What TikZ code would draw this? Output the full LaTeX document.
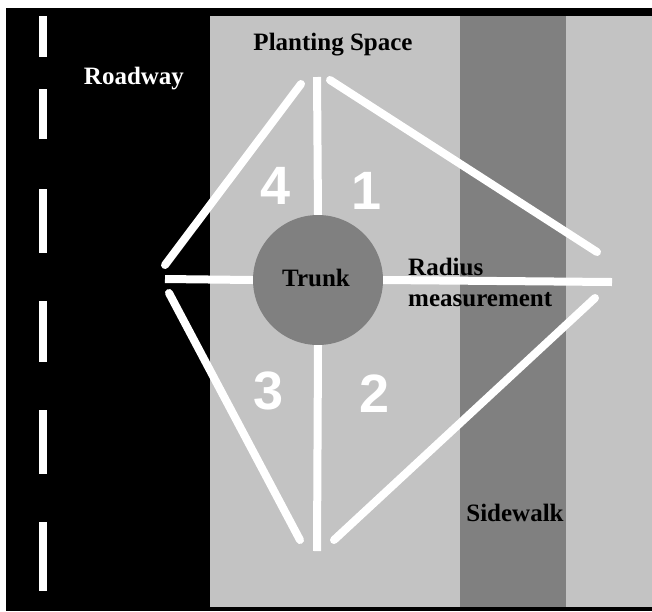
\documentclass[tikz,border=0pt]{standalone}
\usepackage{fontspec}
\setmainfont{Liberation Serif}
\newfontfamily\digitfont{Liberation Sans}
\definecolor{planting}{HTML}{C3C3C3}
\definecolor{walkgray}{HTML}{808080}
\begin{document}
\begin{tikzpicture}[x=1pt,y=-1pt,
  lbl/.style={inner sep=0pt,font=\fontsize{25}{31}\selectfont\bfseries},
  digit/.style={inner sep=0pt,text=white,font=\digitfont\fontsize{54}{60}\selectfont\bfseries},
  wline/.style={draw=white,line width=8pt},
  wdiag/.style={draw=white,line width=8pt,line cap=round},
  dash/.style={fill=white}]
\useasboundingbox (0,0) rectangle (652,611);
\fill[white] (0,0) rectangle (652,611);
% background bands
\fill[black] (6,8) rectangle (652,611);
\fill[planting] (210,16) rectangle (652,607);
\fill[walkgray] (460,16) rectangle (566,607);
% road centre dashes
\foreach \a/\b in {16/57,89/139,189/253,301/362,410/474,522/591}
  \fill[white] (38.7,\a) rectangle (47,\b);
% trunk
\node[circle,fill=walkgray,minimum size=130pt,inner sep=0pt] (trunk) at (318,280) {};
\node[lbl] (trunktxt) at (316,278) {Trunk};
% diamond corner points
\coordinate (top) at (317,77);
\coordinate (bot) at (317,551);
\coordinate (lft) at (165,279);
\coordinate (rgt) at (612,282);
\coordinate (tlA) at (165,265);
\coordinate (tlB) at (301,84);
\coordinate (trA) at (330,80);
\coordinate (trB) at (597,252);
\coordinate (blA) at (169,293);
\coordinate (blB) at (300,540);
\coordinate (brA) at (595,298);
\coordinate (brB) at (334,540);
% radius lines
\draw[wline] (trunk.north) -- (top);
\draw[wline] (trunk.south) -- (bot);
\draw[wline] (trunk.west) -- (lft);
\draw[wline] (trunk.east) -- (rgt);
% diamond sides
\draw[wdiag] (tlA) -- (tlB);
\draw[wdiag] (trA) -- (trB);
\draw[wdiag] (blA) -- (blB);
\draw[wdiag] (brA) -- (brB);
% labels
\node[lbl,text=white] (road) at (134,79) {Roadway};
\node[lbl] (plant) at (333,45) {Planting Space};
\node[lbl,align=left,anchor=west] (radius) at (408,282) {Radius\\measurement};
\node[lbl] (side) at (515,513) {Sidewalk};
% quadrant numbers
\node[digit] (q4) at (276,186) {4};
\node[digit] (q1) at (367,191) {1};
\node[digit] (q3) at (269,391) {3};
\node[digit] (q2) at (375,394) {2};
\end{tikzpicture}
\end{document}
